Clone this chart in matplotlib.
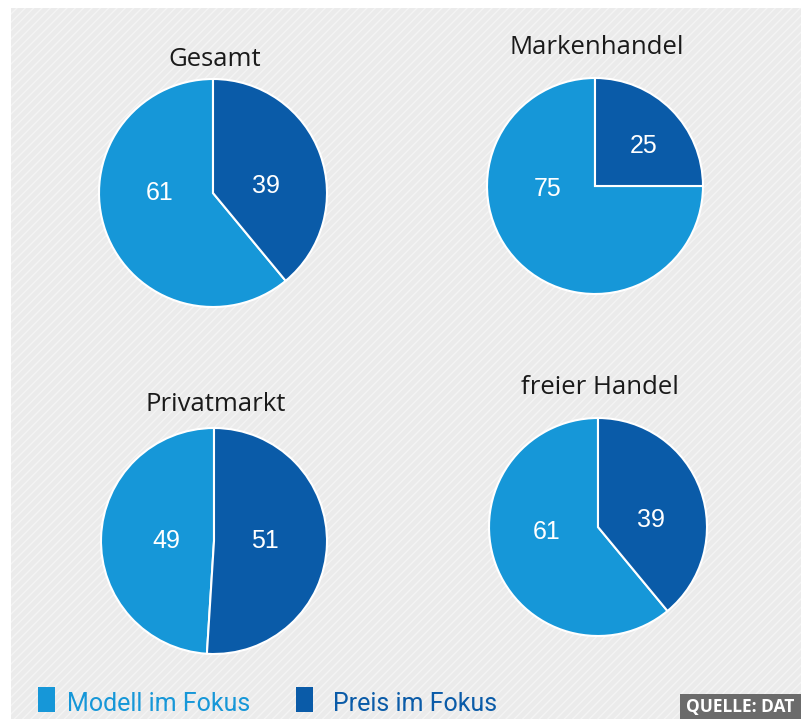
import matplotlib
matplotlib.use("Agg")
import matplotlib.pyplot as plt
from matplotlib.patches import Rectangle

# ---- data ----
titles = ["Gesamt", "Markenhandel", "Privatmarkt", "freier Handel"]
modell = [61, 75, 49, 61]
preis = [39, 25, 51, 39]
legend_labels = ["Modell im Fokus", "Preis im Fokus"]
source_text = "QUELLE: DAT"

# ---- style ----
LIGHT = "#1697d8"
DARK = "#0a5ba8"
BG = "#ebebeb"

W, H = 801, 719
fig = plt.figure(figsize=(W / 100, H / 100), dpi=100)
fig.patch.set_facecolor("white")

# background panel
bg = Rectangle((11 / W, 0), 1 - 11 / W, 1 - 8 / H, transform=fig.transFigure,
               facecolor=BG, edgecolor="#f4f4f4", hatch="////", linewidth=0, zorder=-10)
fig.patches.append(bg)

# layout: center x, center y (pixels from top), radius, title y
layout = [
    (213, 193, 114, 60),
    (595, 186, 108, 48),
    (214, 541, 113, 404),
    (598, 527, 109, 388),
]
# label offsets in units of radius (modell, preis)
label_pos = [
    ((-0.47, 0.00), (0.46, 0.06)),
    ((-0.44, -0.03), (0.45, 0.37)),
    ((-0.42, 0.00), (0.45, 0.00)),
    ((-0.47, -0.05), (0.49, 0.06)),
]

for i, (t, m, p) in enumerate(zip(titles, modell, preis)):
    cx, cy, r, ty = layout[i]
    ax = fig.add_axes([(cx - r) / W, (H - cy - r) / H, 2 * r / W, 2 * r / H])
    ax.patch.set_visible(False)
    wedges, _ = ax.pie([m, p], colors=[LIGHT, DARK], startangle=90, counterclock=True,
                       radius=1, wedgeprops=dict(edgecolor="white", linewidth=1.5))
    for w in wedges:
        w.set_clip_on(False)
    ax.set_xlim(-1, 1)
    ax.set_ylim(-1, 1)
    ax.set_aspect("auto")
    ax.axis("off")
    (mx, my), (px, py) = label_pos[i]
    ax.text(mx, my, str(m), color="white", fontsize=18, ha="center", va="center",
            family="Liberation Sans")
    ax.text(px, py, str(p), color="white", fontsize=18, ha="center", va="center",
            family="Liberation Sans")
    fig.text(cx / W + 2 / W, 1 - ty / H, t, fontsize=18.5, ha="center", va="center",
             color="#1a1a1a", family="Open Sans")

# legend
leg_items = [(38, LIGHT, legend_labels[0], 67), (296, DARK, legend_labels[1], 333)]
for x0, col, lab, tx in leg_items:
    fig.patches.append(Rectangle((x0 / W, (H - 712) / H), 17 / W, 25 / H,
                                 transform=fig.transFigure, facecolor=col,
                                 edgecolor="none", zorder=2))
    fig.text(tx / W, (H - 704) / H, lab, fontsize=18, ha="left", va="center",
             color=col, family="Roboto")

# source box
fig.patches.append(Rectangle((680 / W, 0), (W - 680) / W, 25 / H,
                             transform=fig.transFigure, facecolor="#6b6b6b",
                             edgecolor="none", zorder=2))
fig.text(686 / W, 12 / H, source_text, fontsize=12.5, ha="left", va="center",
         color="white", weight="bold", family="Open Sans")

fig.savefig("out.png", dpi=100)
